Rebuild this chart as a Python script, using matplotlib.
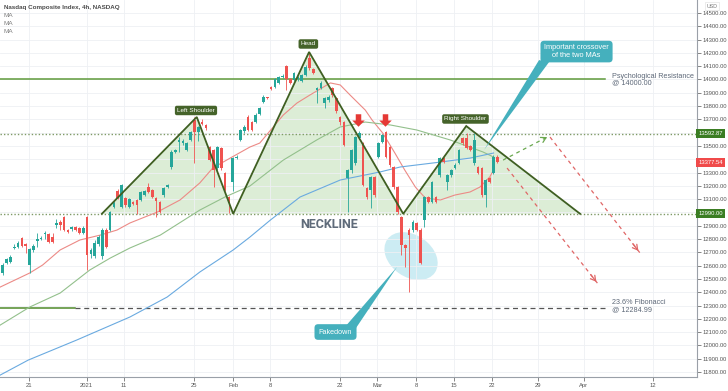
import numpy as np
import matplotlib
matplotlib.use('Agg')
import matplotlib.pyplot as plt
from matplotlib.patches import Polygon, Ellipse
from matplotlib.path import Path
import matplotlib.transforms as mtransforms

plt.rcParams['font.family'] = ['Liberation Sans', 'DejaVu Sans']

# ---------------- data ----------------
opens = [12545,12620,12628,12733,12740,12808,12763,12605,12718,12786,12800,12838,12838,12815,12906,12928,12967,12868,12876,12891,12883,12846,12967,12688,12673,12763,12673,12868,12868,13041,13161,13041,13109,
         13041,13079,13094,13094,13131,13192,13169,13109,13079,13131,13192,13341,13455,13530,13522,13470,13545,13695,13605,13680,13658,13492,13470,13334,13485,13297,13116,13229,13410,13545,13613,13718,
         13680,13680,13740,13831,13868,13944,13944,13974,14019,14101,14004,13996,14004,13989,14034,14162,14079,13921,13936,13823,13846,13936,13860,13718,13680,13259,13319,13372,13560,13522,13184,13169,13267,13417,
         13530,13605,13492,13342,13192,12966,12755,12868,12868,12921,12868,12943,13116,13079,13116,13282,13410,13229,13282,13334,13372,13560,13560,13500,13372,13342,13334,13131,13259,13297,13417]
closes = [12605,12650,12665,12742,12770,12748,12748,12725,12748,12800,12808,12846,12778,12778,12921,12906,12868,12853,12891,12868,12846,12883,12680,12718,12770,12815,12868,12740,13004,13071,13109,13206,13056,
          13101,13064,13056,13154,13161,13154,13116,13086,13004,13184,13207,13455,13470,13545,13535,13522,13605,13605,13643,13665,13635,13395,13319,13492,13334,13169,13071,13410,13420,13620,13643,13620,
          13620,13733,13786,13868,13861,13928,14004,14019,14026,14004,13974,14049,14019,14034,14094,14086,14049,13936,13974,13861,13868,13883,13760,13680,13507,13319,13470,13567,13598,13207,13116,13267,13131,13522,
          13583,13417,13357,13192,13004,12755,12733,12830,12928,12868,12620,13116,13079,13229,13079,13410,13380,13282,13319,13357,13470,13522,13485,13470,13545,13297,13131,13244,13229,13417,13378]
highs = [12620,12660,12680,12760,12785,12815,12770,12735,12760,12846,12820,12860,12846,12846,12950,12940,12975,12875,12900,12900,12890,12900,12975,12730,12790,12830,12883,12883,13010,13085,13175,13215,13120,
         13110,13090,13100,13160,13170,13222,13180,13115,13090,13190,13215,13470,13480,13567,13550,13530,13615,13718,13650,13700,13665,13500,13480,13500,13492,13305,13125,13420,13430,13630,13655,13730,
         13690,13745,13795,13880,13870,13950,14010,14030,14040,14110,14010,14060,14030,14045,14110,14207,14085,13945,13985,13870,13880,13944,13870,13725,13690,13330,13480,13575,13610,13530,13190,13275,13275,13530,
         13590,13615,13500,13350,13200,12975,12765,12880,12940,12930,12880,13125,13125,13240,13125,13420,13420,13290,13330,13370,13480,13570,13600,13510,13598,13350,13345,13255,13265,13430,13435]
lows = [12530,12610,12620,12725,12730,12740,12695,12545,12700,12740,12790,12800,12770,12770,12880,12870,12860,12845,12860,12860,12838,12838,12567,12660,12660,12750,12650,12730,12860,13030,13100,13030,13041,
        13030,13056,12989,13085,13125,13145,13110,12966,12996,13120,13185,13330,13445,13455,13510,13460,13540,13372,13540,13655,13620,13385,13192,13320,13320,13160,12996,13160,13400,13540,13600,13610,
        13610,13670,13730,13825,13850,13920,13935,13965,14010,13921,13965,13990,13990,13980,14025,14075,14040,13823,13925,13786,13830,13870,13750,13660,13500,13004,13300,13360,13550,13200,13100,13034,13120,13410,
        13520,13410,13345,13180,12990,12680,12590,12402,12850,12860,12610,12890,13070,13070,13070,13270,13370,13169,13270,13325,13365,13510,13475,13460,13360,13290,13120,13041,13220,13290,13370]

# moving averages: day index, price
ma_fast_x = [-3.8,0.1,1.8,4.1,6.7,9.4,11.6,13.3,16.9,19.9,22.5,24.2,26.5,29.1,30.4,33.5,35.3,37.0,39.7,41.0,42.3,44.3,45.2,46.6,48.2,49.5,50.9,52.2,54.2,56.1,58.1,59.4,60.7,61.2]
ma_fast_y = [12439,12545,12605,12718,12793,12830,12868,12921,13003,13094,13222,13334,13409,13492,13522,13733,13823,13883,13974,13959,13883,13770,13695,13597,13447,13319,13191,13109,13094,13131,13154,13191,13267,13319]
ma_mid_x = [-3.8,0.1,4.1,8.0,10.7,13.3,17.3,22.5,25.8,29.1,33.5,37.9,41.0,44.3,47.6,51.1,55.5,59.8,61.2]
ma_mid_y = [12153,12289,12394,12567,12657,12733,12830,13018,13116,13199,13394,13545,13643,13680,13658,13620,13545,13455,13417]
ma_slow_x = [-3.8,-0.1,6.3,13.3,18.2,22.5,26.9,29.1,31.8,35.7,41.0,46.2,48.9,54.2,58.1,61.2]
ma_slow_y = [11777,11890,12041,12214,12364,12552,12718,12815,12943,13116,13244,13304,13342,13379,13409,13447]

# head & shoulders outline (day index, price)
hs_x = [9.6, 22.1, 26.9, 36.9, 49.3, 57.6, 72.6]
hs_y = [12990, 13718, 12990, 14207, 12990, 13650, 12990]

neckline = 12990.00
upper_level = 13592.87
last_price = 13377.54
resistance = 14000.00
fib_level = 12284.99

tick_pos = [0, 7.6, 12.5, 21.7, 26.9, 31.8, 41.0, 45.9, 51.0, 56.0, 61.0, 67.1, 73.1, 82.2]
tick_lab = ['21', '2021', '11', '25', 'Feb', '8', '22', 'Mar', '8', '15', '22', '29', 'Apr', '12']
price_ticks = [v for v in range(11800, 14501, 100) if v not in (13000, 13400, 13600)]

# ---------------- figure ----------------
fig = plt.figure(figsize=(7.28, 3.91), dpi=100)
ax = fig.add_axes([0, 14/391, 697/728, 377/391])
XMIN, XMAX = -3.82, 88.0
ax.set_xlim(XMIN, XMAX)
ax.set_ylim(11762.7, 14597.8)

ax.set_yticks(price_ticks)
ax.set_yticklabels([f"{v:.2f}" for v in price_ticks])
ax.set_yticks([13000, 13400, 13600], minor=True)
ax.yaxis.tick_right()
ax.set_xticks(tick_pos)
ax.set_xticklabels(tick_lab)
ax.tick_params(axis='both', labelsize=4.2, colors='#555555', length=3, width=0.5, pad=1.5)
ax.tick_params(axis='y', which='both', pad=1, length=3, width=0.5, colors='#555555')
ax.grid(True, which='both', color='#eef0f4', lw=0.6, zorder=0)
for s in ['left', 'top']:
    ax.spines[s].set_visible(False)
for s in ['right', 'bottom']:
    ax.spines[s].set_color('#9aa0a8')
    ax.spines[s].set_linewidth(0.8)

# head & shoulders fill
ax.fill(hs_x, hs_y, facecolor='#a8d49a', alpha=0.4, edgecolor='none', zorder=1)

# ellipse (fakedown zone)
ell_tr = fig.dpi_scale_trans + mtransforms.ScaledTranslation(50.33, 12672, ax.transData)
ax.add_patch(Ellipse((0, 0), 0.58, 0.42, angle=-35, transform=ell_tr,
                     facecolor='#c4e9f1', alpha=0.85, edgecolor='none', zorder=1.5))

# levels
ax.axhline(neckline, color='#7f9a66', lw=1.0, ls=(0, (1, 1.5)), zorder=2)
ax.axhline(upper_level, color='#7f9a66', lw=1.0, ls=(0, (1, 1.5)), zorder=2)
ax.plot([XMIN, 75.9], [resistance, resistance], color='#5f9a3b', lw=1.1, zorder=2)
ax.plot([XMIN, 6.06], [fib_level, fib_level], color='#4f8a2a', lw=1.1, zorder=2)
ax.plot([6.06, 76.2], [fib_level, fib_level], color='#555555', lw=0.9, ls=(0, (4, 3)), zorder=2)

# moving averages
ax.plot(ma_fast_x, ma_fast_y, color='#ec8a86', lw=0.8, zorder=2.5)
ax.plot(ma_mid_x, ma_mid_y, color='#93c08c', lw=0.8, zorder=2.5)
ax.plot(ma_slow_x, ma_slow_y, color='#6aaae0', lw=0.8, zorder=2.5)

# candles
o = np.array(opens, float); c = np.array(closes, float)
h = np.array(highs, float); l = np.array(lows, float)
n = len(o)
xs = -3.45 + 0.505 * np.arange(n)
up = c >= o
col = np.where(up, '#26a69a', '#ef5350')
ax.vlines(xs, l, h, colors=col, lw=0.6, zorder=3)
ax.bar(xs, np.maximum(np.abs(c - o), 8), bottom=np.minimum(o, c), width=0.35,
       color=col, linewidth=0, zorder=3.5)

# H&S outline
ax.plot(hs_x, hs_y, color='#3f5f22', lw=1.3, zorder=5, solid_joinstyle='miter')

# tags
def tag(x, y, s):
    ax.text(x, y, s, ha='center', va='center', fontsize=4.6, color='white', zorder=8,
            bbox=dict(boxstyle='round,pad=0.35,rounding_size=0.3', fc='#45632a', ec='none'))
tag(22.0, 13767, 'Left Shoulder')
tag(36.8, 14267, 'Head')
tag(57.5, 13703, 'Right Shoulder')

# red block arrows
arrow_path = Path([(-0.22, 0.5), (0.22, 0.5), (0.22, 0.0), (0.5, 0.0), (0.0, -0.5),
                   (-0.5, 0.0), (-0.22, 0.0), (-0.22, 0.5)], closed=True)
ax.plot([43.35, 46.9], [13699, 13699], ls='none', marker=arrow_path, ms=9,
        color='#e53935', markeredgewidth=0, zorder=8)

# neckline text
ax.text(39.5, 12912, 'NECKLINE', fontsize=9, fontweight='bold', color='#5f6b7a',
        ha='center', va='center', family=['Roboto', 'DejaVu Sans'], zorder=6)

# level labels
ax.text(76.8, 13999, 'Psychological Resistance\n@ 14000.00', ha='left', va='center',
        fontsize=5.2, color='#5d6878', linespacing=0.95, zorder=6)
ax.text(76.8, 12296, '23.6% Fibonacci\n@ 12284.99', ha='left', va='center',
        fontsize=5.2, color='#5d6878', linespacing=0.95, zorder=6)

# callouts
teal = '#45b0bd'
ax.add_patch(Polygon([(67.19, 14146), (68.51, 14131), (59.95, 13470)], closed=True,
                     fc=teal, ec='none', zorder=7))
ax.text(72.13, 14210, 'Important crossover\nof the two MAs', ha='center', va='center',
        fontsize=5.3, color='white', linespacing=1.05, zorder=8,
        bbox=dict(boxstyle='round,pad=0.5,rounding_size=0.5', fc=teal, ec='none'))
ax.add_patch(Polygon([(41.5, 12131), (43.08, 12131), (48.48, 12590)], closed=True,
                     fc=teal, ec='none', zorder=7))
ax.text(40.38, 12101, 'Fakedown', ha='center', va='center', fontsize=5.2, color='white', zorder=8,
        bbox=dict(boxstyle='round,pad=0.6,rounding_size=0.5', fc=teal, ec='none'))

# projection arrows
def dash_arrow(x0, y0, x1, y1, color):
    ax.plot([x0, x1], [y0, y1], color=color, lw=0.9, ls=(0, (3, 3)), zorder=6)
    ax.annotate('', xy=(x1, y1), xytext=(x0 + (x1 - x0) * 0.9, y0 + (y1 - y0) * 0.9),
                arrowprops=dict(arrowstyle='->,head_length=0.35,head_width=0.2',
                                color=color, lw=0.9), zorder=6)
dash_arrow(62.45, 13394, 68.25, 13567, '#6aa84f')
dash_arrow(62.98, 13334, 74.97, 12462, '#e06666')
dash_arrow(68.64, 13567, 80.5, 12695, '#e06666')

# price tags on the right axis
def price_tag(v, color):
    ax.text(1.002, v, f"{v:.2f}", transform=ax.get_yaxis_transform(), ha='left', va='center',
            fontsize=4.2, color='white', clip_on=False, zorder=10,
            bbox=dict(boxstyle='square,pad=0.35', fc=color, ec='none'))
price_tag(upper_level, '#3b7d23')
price_tag(last_price, '#f04a4a')
price_tag(neckline, '#3b7d23')

fig.text(712/728, 1 - 6/391, 'USD', fontsize=3.8, color='#777777', ha='center', va='center',
         bbox=dict(boxstyle='square,pad=0.2', fc='white', ec='#dddddd', lw=0.4))

# header
fig.text(4/728, 1 - 7/391, 'Nasdaq Composite Index, 4h, NASDAQ', fontsize=4.5,
         fontweight='bold', color='#4a4a4a', va='center', ha='left')
for k in range(3):
    fig.text(4/728, 1 - (15.5 + 8 * k)/391, 'MA', fontsize=4.6, color='#808080', va='center', ha='left')

fig.savefig('out.png', dpi=100)
